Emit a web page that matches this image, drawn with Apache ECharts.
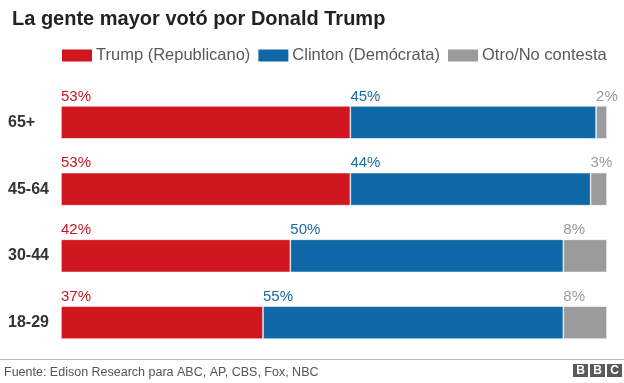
<!DOCTYPE html>
<html><head><meta charset="utf-8">
<script src="https://cdn.jsdelivr.net/npm/echarts@6/dist/echarts.min.js"></script>
<style>html,body{margin:0;padding:0;background:#fff}#c{width:624px;height:383px}</style>
</head><body><div id="c"></div>
<script>
const categories = ['65+', '45-64', '30-44', '18-29'];
const trump = [53, 53, 42, 37];
const clinton = [45, 44, 50, 55];
const other = [2, 3, 8, 8];
const seriesNames = ['Trump (Republicano)', 'Clinton (Demócrata)', 'Otro/No contesta'];
const colors = ['#D0161E', '#0F69A6', '#9B9B9B'];
const labelColors = ['#C8161E', '#1B6AA3', '#9B9B9B'];

const font = '"Liberation Sans", Arial, sans-serif';
const chart = echarts.init(document.getElementById('c'), null, {renderer: 'canvas'});
function mk(i, data) {
  return {
    name: seriesNames[i], type: 'bar', stack: 'all', data: data, barWidth: 33,
    itemStyle: {color: colors[i], borderColor: '#fff', borderWidth: 0.6},
    label: {show: true, position: [0, -2], align: 'left', verticalAlign: 'bottom',
      formatter: '{c}%', color: labelColors[i], fontSize: 15, fontFamily: font},
    emphasis: {disabled: true}, animation: false
  };
}
chart.setOption({
  animation: false,
  title: [{
    text: 'La gente mayor votó por Donald Trump', left: 12, top: 9, padding: 0,
    textStyle: {fontFamily: font, fontSize: 20, fontWeight: 'bold', color: '#222'}
  }, {
    text: 'Fuente: Edison Research para ABC, AP, CBS, Fox, NBC', left: 4, top: 366, padding: 0,
    textStyle: {fontFamily: font, fontSize: 12.5, fontWeight: 'normal', color: '#555'}
  }],
  legend: {
    left: 60, top: 47, padding: 0, itemWidth: 32, itemHeight: 14, itemGap: 6, icon: 'rect',
    data: seriesNames, selectedMode: false,
    textStyle: {fontFamily: font, fontSize: 16.5, color: '#595959', padding: [0, 0, 0, -2]}
  },
  grid: {left: 61, right: 17, top: 89, bottom: 27, containLabel: false},
  xAxis: {type: 'value', min: 0, max: 100, show: false},
  yAxis: {
    type: 'category', data: categories, inverse: true,
    axisLine: {show: false}, axisTick: {show: false},
    axisLabel: {align: 'left', margin: 53, padding: [4, 0, 0, 0], fontFamily: font, fontSize: 16, fontWeight: 'bold', color: '#333'}
  },
  series: [mk(0, trump), mk(1, clinton), mk(2, other)],
  graphic: [
    {type: 'rect', shape: {x: 0, y: 359, width: 624, height: 1}, style: {fill: '#BBBBBB'}},
    {type: 'group', left: 573, top: 364, children: [0, 1, 2].map(k => ({
      type: 'group', x: k * 17, children: [
        {type: 'rect', shape: {x: 0, y: 0, width: 15, height: 13}, style: {fill: '#5A5A5A'}},
        {type: 'text', x: 7.5, y: 7, style: {text: 'BBC'[k], fill: '#fff', font: 'bold 12px ' + font, align: 'center', verticalAlign: 'middle'}}
      ]
    }))}
  ]
});
</script></body></html>
